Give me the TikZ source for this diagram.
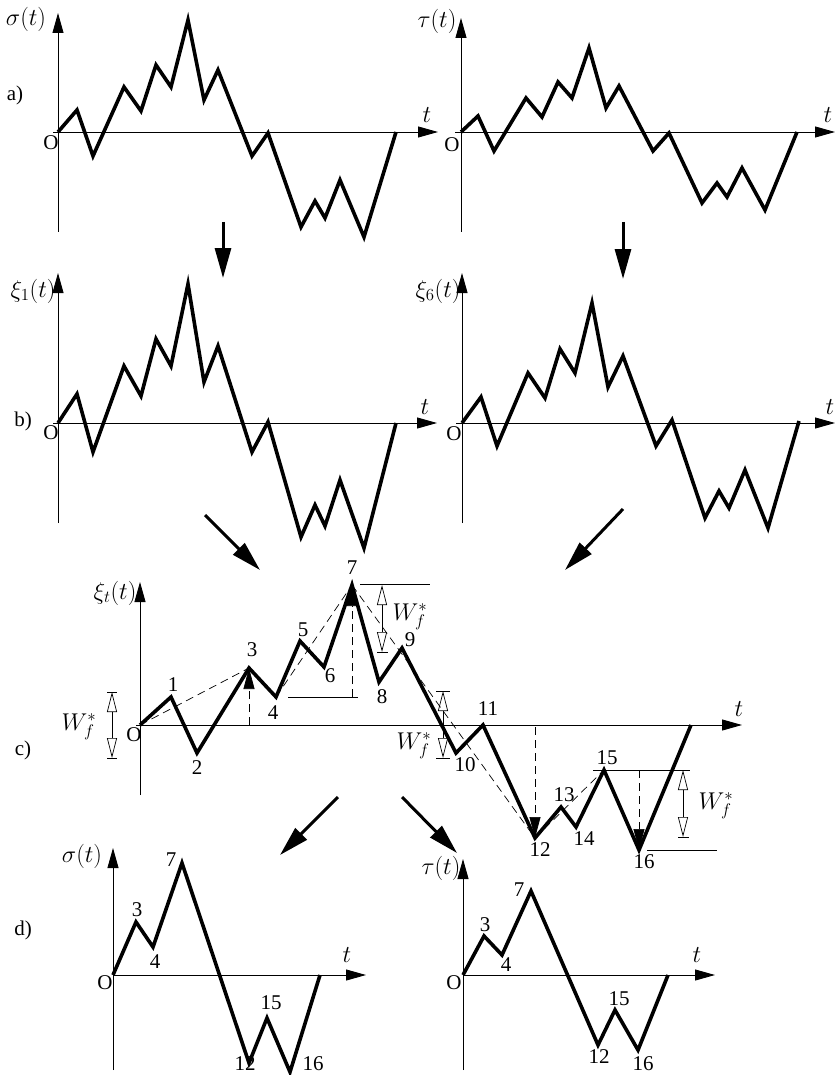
\documentclass[tikz,border=0pt]{standalone}
\usepackage{graphicx}
\usepackage{fontspec}
\setmainfont{Liberation Serif}
\usetikzlibrary{arrows.meta}
\newcommand{\mth}[1]{\scalebox{1.17}{$#1$}}
\begin{document}
\begin{tikzpicture}[x=1pt,y=-1pt,
  curve/.style={line width=3.6pt, line join=miter, miter limit=10},
  axis/.style={line width=0.9pt, -{Triangle[length=20pt,width=11pt]}},
  flow/.style={line width=3pt, -{Triangle[length=30pt,width=16pt]}},
  dashln/.style={line width=0.7pt, dash pattern=on 8pt off 5pt},
  fillhead/.style={dashln, -{Triangle[length=21pt,width=11pt]}},
  dimarr/.style={line width=0.7pt, {Triangle[open,length=20pt,width=10pt,line width=0.7pt]}-{Triangle[open,length=20pt,width=10pt,line width=0.7pt]}},
  rule/.style={line width=0.8pt},
  lbl/.style={inner sep=0pt, font=\fontsize{21}{25}\selectfont},
]
\useasboundingbox[fill=white] (0,0) rectangle (835,1075);

% ---------- panel a ----------
\draw[axis] (58,232) -- (58,13);
\draw[axis] (53,132) -- (438,132);
\draw[axis] (461,232) -- (461,18);
\draw[axis] (455,132) -- (835,132);
\draw[curve] (58,132)--(77,110)--(93,156)--(124,87)--(141,111)--(156,65)--(171,87)--(188,20)--(204,100)--(218,70)--(252,156)--(268,133)--(301,227)--(315,201)--(325,218)--(340,180)--(364,237)--(396,132);
\draw[curve] (461,132)--(478,116)--(494,151)--(526,98)--(542,117)--(558,82)--(572,98)--(589,48)--(606,108)--(619,86)--(653,151)--(669,133)--(702,203)--(717,183)--(727,197)--(742,168)--(765,210)--(797,132);
\node[lbl] (sa) at (26,19) {\mth{\sigma(t)}};
\node[lbl] (ta) at (437,21) {\mth{\tau(t)}};
\node[lbl] (la) at (15,95) {a)};
\node[lbl] (oa1) at (51,143) {O};
\node[lbl] (oa2) at (452,145) {O};
\node[lbl] (tal) at (427,115) {\mth{t}};
\node[lbl] (tar) at (828,115) {\mth{t}};

% ---------- arrows a -> b ----------
\coordinate (fa1) at (223,222); \coordinate (fb1) at (223,278);
\coordinate (fa2) at (623,222); \coordinate (fb2) at (623,279);
\draw[flow] (fa1) -- (fb1);
\draw[flow] (fa2) -- (fb2);

% ---------- panel b ----------
\draw[axis] (58,523) -- (58,273);
\draw[axis] (53,423) -- (437,423);
\draw[axis] (462,523) -- (462,273);
\draw[axis] (456,423) -- (835,423);
\draw[curve] (58,423)--(77,394)--(93,452)--(124,366)--(141,396)--(156,339)--(171,366)--(188,284)--(204,382)--(218,346)--(252,452)--(268,422)--(301,537)--(315,505)--(325,526)--(340,480)--(364,548)--(396,423);
\draw[curve] (462,423)--(481,397)--(497,446)--(528,373)--(545,398)--(560,349)--(575,373)--(592,303)--(608,387)--(623,356)--(656,446)--(672,420)--(705,518)--(719,491)--(729,508)--(745,470)--(768,528)--(799,421);
\node[lbl] (xb1) at (33,291) {\mth{\xi_1(t)}};
\node[lbl] (xb6) at (438,291) {\mth{\xi_6(t)}};
\node[lbl] (lb) at (23,421) {b)};
\node[lbl] (ob1) at (51,433) {O};
\node[lbl] (ob2) at (454,434) {O};
\node[lbl] (tbl) at (425,407) {\mth{t}};
\node[lbl] (tbr) at (830,407) {\mth{t}};

% ---------- arrows b -> c ----------
\coordinate (fc1) at (205,515); \coordinate (fd1) at (260,570);
\coordinate (fc2) at (623,509); \coordinate (fd2) at (565,570);
\draw[flow] (fc1) -- (fd1);
\draw[flow] (fc2) -- (fd2);

% ---------- panel c ----------
\draw[axis] (140,795) -- (140,582);
\draw[axis] (136,725) -- (742,725);
\coordinate (O) at (140,725);
\coordinate (p1) at (171,697);
\coordinate (p2) at (197,753);
\coordinate (p3) at (249,668);
\coordinate (p4) at (276,697);
\coordinate (p5) at (300,641);
\coordinate (p6) at (324,667);
\coordinate (p7) at (352,585);
\coordinate (p8) at (379,682);
\coordinate (p9) at (402,648);
\coordinate (p10) at (456,753);
\coordinate (p11) at (483,725);
\coordinate (p12) at (535,838);
\coordinate (p13) at (561,807);
\coordinate (p14) at (576,827);
\coordinate (p15) at (604,770);
\coordinate (p16) at (639,850);
\coordinate (pe) at (691,725);

% dashed construction lines
\draw[dashln] (O) -- (p3);
\draw[dashln] (p4) -- (p7);
\draw[dashln] (p7) -- (p12);
\draw[dashln] (p12) -- (p15);
\coordinate (v3) at (249,725);
\coordinate (v7) at (352,697);
\coordinate (v12) at (535,727);
\coordinate (v16) at (639,770);
\draw[fillhead] (v3) -- (p3);
\draw[fillhead] (v7) -- (p7);
\draw[fillhead] (v12) -- (p12);
\draw[fillhead] (v16) -- (p16);

% level lines
\coordinate (h4a) at (288,697); \coordinate (h4b) at (358,697);
\coordinate (h7a) at (360,584); \coordinate (h7b) at (430,584);
\coordinate (h15a) at (593,770); \coordinate (h15b) at (690,770);
\coordinate (h16a) at (647,850); \coordinate (h16b) at (717,850);
\draw[rule] (h4a) -- (h4b);
\draw[rule] (h7a) -- (h7b);
\draw[rule] (h15a) -- (h15b);
\draw[rule] (h16a) -- (h16b);

% dimension arrows W_f^*
\coordinate (wa1) at (112,692); \coordinate (wa2) at (112,758);
\draw[rule] (107,692) -- (117,692);
\draw[rule] (107,758) -- (117,758);
\draw[dimarr] (wa1) -- (wa2);
\coordinate (wb1) at (382,585); \coordinate (wb2) at (382,652);
\draw[rule] (377,652) -- (388,652);
\draw[dimarr] (wb1) -- (wb2);
\coordinate (wc1) at (443,691); \coordinate (wc2) at (443,758);
\draw[rule] (436,691) -- (450,691);
\draw[rule] (436,758) -- (450,758);
\draw[dimarr] (wc1) -- (wc2);
\coordinate (wd1) at (683,770); \coordinate (wd2) at (683,837);
\draw[rule] (678,837) -- (689,837);
\draw[dimarr] (wd1) -- (wd2);

\node[lbl] (wla) at (79,727) {\mth{W_f^*}};
\node[lbl] (wlb) at (410,617) {\mth{W_f^*}};
\node[lbl] (wlc) at (414,746) {\mth{W_f^*}};
\node[lbl] (wld) at (716,806) {\mth{W_f^*}};

% main path
\draw[curve] (O)--(p1)--(p2)--(p3)--(p4)--(p5)--(p6)--(p7)--(p8)--(p9)--(p10)--(p11)--(p12)--(p13)--(p14)--(p15)--(p16)--(pe);

\node[lbl] (xt) at (115,593) {\mth{\xi_t(t)}};
\node[lbl] (oc) at (134,735) {O};
\node[lbl] (tc) at (739,709) {\mth{t}};
\node[lbl] (lc) at (23,750) {c)};
\node[lbl] (n1) at (173,685) {1};
\node[lbl] (n2) at (197,768) {2};
\node[lbl] (n3) at (252,650) {3};
\node[lbl] (n4) at (273,713) {4};
\node[lbl] (n5) at (303,630) {5};
\node[lbl] (n6) at (330,676) {6};
\node[lbl] (n7) at (352,568) {7};
\node[lbl] (n8) at (382,697) {8};
\node[lbl] (n9) at (410,640) {9};
\node[lbl] (n10) at (465,765) {10};
\node[lbl] (n11) at (488,709) {11};
\node[lbl] (n12) at (540,850) {12};
\node[lbl] (n13) at (564,795) {13};
\node[lbl] (n14) at (584,839) {14};
\node[lbl] (n15) at (607,758) {15};
\node[lbl] (n16) at (644,862) {16};

% ---------- arrows c -> d ----------
\coordinate (fe1) at (338,797); \coordinate (ff1) at (280,855);
\coordinate (fe2) at (402,797); \coordinate (ff2) at (457,853);
\draw[flow] (fe1) -- (ff1);
\draw[flow] (fe2) -- (ff2);

% ---------- panel d ----------
\draw[axis] (113,1070) -- (113,848);
\draw[axis] (113,975) -- (366,975);
\draw[axis] (463,1070) -- (463,859);
\draw[axis] (463,975) -- (715,975);
\draw[curve] (113,975)--(136,922)--(153,947)--(182,863)--(249,1063)--(267,1018)--(290,1072)--(320,975);
\draw[curve] (463,975)--(484,936)--(502,955)--(531,891)--(598,1045)--(615,1010)--(638,1050)--(668,975);
\node[lbl] (sd) at (82,856) {\mth{\sigma(t)}};
\node[lbl] (td) at (441,868) {\mth{\tau(t)}};
\node[lbl] (ld) at (23,930) {d)};
\node[lbl] (od1) at (105,983) {O};
\node[lbl] (od2) at (454,983) {O};
\node[lbl] (tdl) at (347,955) {\mth{t}};
\node[lbl] (tdr) at (697,955) {\mth{t}};
\node[lbl] (d3) at (137,910) {3};
\node[lbl] (d4) at (155,962) {4};
\node[lbl] (d7) at (171,860) {7};
\node[lbl] (d12) at (245,1064) {12};
\node[lbl] (d15) at (271,1003) {15};
\node[lbl] (d16) at (313,1064) {16};
\node[lbl] (e3) at (485,925) {3};
\node[lbl] (e4) at (506,965) {4};
\node[lbl] (e7) at (519,890) {7};
\node[lbl] (e12) at (599,1057) {12};
\node[lbl] (e15) at (619,999) {15};
\node[lbl] (e16) at (643,1064) {16};
\end{tikzpicture}
\end{document}
